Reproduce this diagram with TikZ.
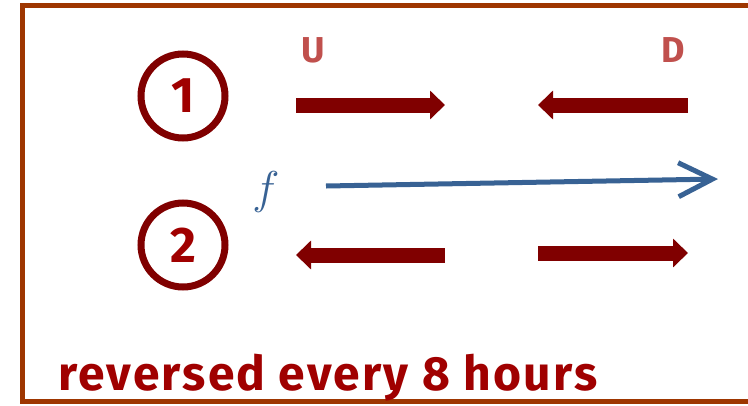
\RequirePackage{fix-cm}
\documentclass[tikz,border=0pt]{standalone}
\usepackage{fontspec}
\setmainfont{Fira Sans}
\usetikzlibrary{arrows.meta, positioning}
\definecolor{framebrown}{RGB}{158,54,0}
\definecolor{flowred}{RGB}{128,0,0}
\definecolor{digitred}{RGB}{160,0,0}
\definecolor{labelred}{RGB}{192,80,77}
\definecolor{flowblue}{RGB}{56,98,148}
\begin{document}
\begin{tikzpicture}[x=1pt, y=-1pt,
    flow/.style={flowred, line width=15pt, -{Triangle[length=15pt, width=28pt]}},
    phase/.style={circle, draw=flowred, line width=7pt, minimum size=84pt, inner sep=0pt,
        text=digitred, font=\fontsize{50}{50}\selectfont\bfseries},
    side/.style={text=labelred, font=\fontsize{36}{36}\selectfont\bfseries}]
    \useasboundingbox (0,0) rectangle (748,405);
    \draw[framebrown, line width=5pt] (22.5,5.5) rectangle (770,401);

    \node[phase] (one) at (183,96) {1};
    \node[phase] (two) at (183,245) {2};
    \node[side] (up) at (313,50) {U};
    \node[side] (down) at (673,50) {D};

    % first configuration
    \coordinate (a1) at (296,105); \coordinate (b1) at (445,105);
    \coordinate (c1) at (688,105); \coordinate (d1) at (538,105);
    \draw[flow] (a1) -- (b1);
    \draw[flow] (c1) -- (d1);

    % second configuration
    \coordinate (a2) at (445,255); \coordinate (b2) at (296,255);
    \coordinate (c2) at (538,253); \coordinate (d2) at (688,253);
    \draw[flow] (a2) -- (b2);
    \draw[flow] (c2) -- (d2);

    % flux
    \node[text=flowblue, font=\fontsize{46}{46}\selectfont] (flux) at (266,192) {$f$};
    \coordinate (fs) at (326,186); \coordinate (fe) at (718,179);
    \draw[flowblue, line width=5pt, -{Straight Barb[length=34pt, width=34pt]}] (fs) -- (fe);

    \node[anchor=base west, text=digitred, font=\fontsize{48}{48}\selectfont\bfseries\addfontfeature{LetterSpace=4.5}] (note) at (55,390) {reversed every 8 hours};
\end{tikzpicture}
\end{document}
